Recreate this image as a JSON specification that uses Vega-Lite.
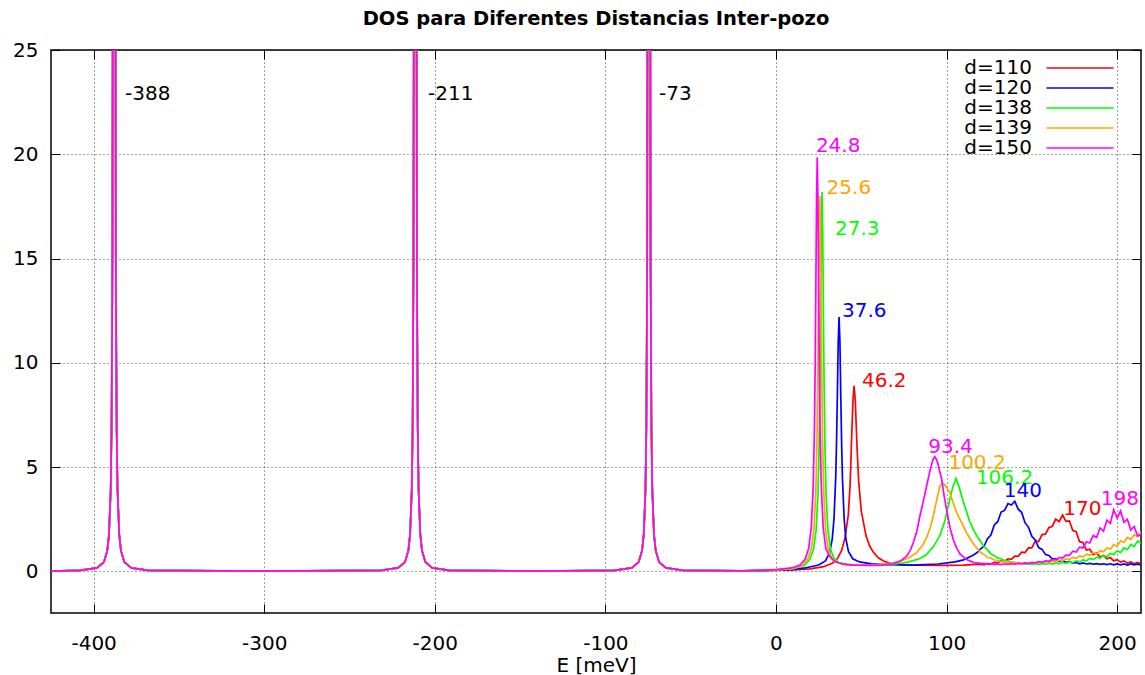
{
"$schema":"https://vega.github.io/schema/vega-lite/v6.json",
"width":1090,"height":563,
"autosize":{"type":"none"},
"padding":{"left":51,"top":50,"right":4,"bottom":62},
"background":"white",
"title":{"text":"DOS para Diferentes Distancias Inter-pozo","fontSize":19.5,"font":"DejaVu Sans","fontWeight":"bold","offset":11,"color":"#000"},
"resolve":{"axis":{"x":"independent","y":"independent"}},
"config":{
 "view":{"stroke":"#000","strokeWidth":1.5},
 "axis":{"labelFont":"DejaVu Sans","labelFontSize":20,"labelColor":"#000","titleFont":"DejaVu Sans","titleFontSize":20,"titleFontWeight":"normal","titleColor":"#000","gridColor":"#000","gridDash":[1,3],"gridOpacity":0.75,"gridWidth":1,"domain":false,"ticks":true,"tickSize":-9,"tickColor":"#000","tickWidth":1,"labelExpr":"'' + datum.value"},
 "legend":{"orient":"top-right","title":null,"symbolType":"M-3.87,0H3.87M5.72,0","symbolSize":300,"symbolStrokeWidth":1.6,"symbolFillColor":"transparent","labelFont":"DejaVu Sans","labelFontSize":20,"labelColor":"#000","labelAlign":"right","labelOffset":-58,"padding":0,"offset":8,"rowPadding":-5}
},
"datasets":{
"left":[
{"E":-425,"d=110":0.01,"d=120":0.01,"d=138":0.01,"d=139":0.01,"d=150":0.01},
{"E":-408,"d=110":0.04,"d=120":0.04,"d=138":0.04,"d=139":0.04,"d=150":0.04},
{"E":-398,"d=110":0.16,"d=120":0.16,"d=138":0.16,"d=139":0.16,"d=150":0.16},
{"E":-394,"d=110":0.44,"d=120":0.44,"d=138":0.44,"d=139":0.44,"d=150":0.44},
{"E":-392,"d=110":0.99,"d=120":0.99,"d=138":0.99,"d=139":0.99,"d=150":0.99},
{"E":-391,"d=110":1.76,"d=120":1.76,"d=138":1.76,"d=139":1.76,"d=150":1.76},
{"E":-390,"d=110":3.9,"d=120":3.9,"d=138":3.9,"d=139":3.9,"d=150":3.9},
{"E":-389.5,"d=110":6.8,"d=120":6.8,"d=138":6.8,"d=139":6.8,"d=150":6.8},
{"E":-389,"d=110":14.7,"d=120":14.7,"d=138":14.7,"d=139":14.7,"d=150":14.7},
{"E":-388.5,"d=110":47,"d=120":47,"d=138":47,"d=139":47,"d=150":47},
{"E":-388,"d=110":150,"d=120":150,"d=138":150,"d=139":150,"d=150":150},
{"E":-387.5,"d=110":47,"d=120":47,"d=138":47,"d=139":47,"d=150":47},
{"E":-387,"d=110":14.7,"d=120":14.7,"d=138":14.7,"d=139":14.7,"d=150":14.7},
{"E":-386.5,"d=110":6.8,"d=120":6.8,"d=138":6.8,"d=139":6.8,"d=150":6.8},
{"E":-386,"d=110":3.9,"d=120":3.9,"d=138":3.9,"d=139":3.9,"d=150":3.9},
{"E":-385,"d=110":1.76,"d=120":1.76,"d=138":1.76,"d=139":1.76,"d=150":1.76},
{"E":-384,"d=110":0.99,"d=120":0.99,"d=138":0.99,"d=139":0.99,"d=150":0.99},
{"E":-382,"d=110":0.44,"d=120":0.44,"d=138":0.44,"d=139":0.44,"d=150":0.44},
{"E":-378,"d=110":0.16,"d=120":0.16,"d=138":0.16,"d=139":0.16,"d=150":0.16},
{"E":-368,"d=110":0.04,"d=120":0.04,"d=138":0.04,"d=139":0.04,"d=150":0.04},
{"E":-300,"d=110":0.01,"d=120":0.01,"d=138":0.01,"d=139":0.01,"d=150":0.01},
{"E":-231.5,"d=110":0.04,"d=120":0.04,"d=138":0.04,"d=139":0.04,"d=150":0.04},
{"E":-221.5,"d=110":0.16,"d=120":0.16,"d=138":0.16,"d=139":0.16,"d=150":0.16},
{"E":-217.5,"d=110":0.44,"d=120":0.44,"d=138":0.44,"d=139":0.44,"d=150":0.44},
{"E":-215.5,"d=110":0.99,"d=120":0.99,"d=138":0.99,"d=139":0.99,"d=150":0.99},
{"E":-214.5,"d=110":1.76,"d=120":1.76,"d=138":1.76,"d=139":1.76,"d=150":1.76},
{"E":-213.5,"d=110":3.9,"d=120":3.9,"d=138":3.9,"d=139":3.9,"d=150":3.9},
{"E":-213,"d=110":6.8,"d=120":6.8,"d=138":6.8,"d=139":6.8,"d=150":6.8},
{"E":-212.5,"d=110":14.7,"d=120":14.7,"d=138":14.7,"d=139":14.7,"d=150":14.7},
{"E":-212,"d=110":47,"d=120":47,"d=138":47,"d=139":47,"d=150":47},
{"E":-211.5,"d=110":150,"d=120":150,"d=138":150,"d=139":150,"d=150":150},
{"E":-211,"d=110":47,"d=120":47,"d=138":47,"d=139":47,"d=150":47},
{"E":-210.5,"d=110":14.7,"d=120":14.7,"d=138":14.7,"d=139":14.7,"d=150":14.7},
{"E":-210,"d=110":6.8,"d=120":6.8,"d=138":6.8,"d=139":6.8,"d=150":6.8},
{"E":-209.5,"d=110":3.9,"d=120":3.9,"d=138":3.9,"d=139":3.9,"d=150":3.9},
{"E":-208.5,"d=110":1.76,"d=120":1.76,"d=138":1.76,"d=139":1.76,"d=150":1.76},
{"E":-207.5,"d=110":0.99,"d=120":0.99,"d=138":0.99,"d=139":0.99,"d=150":0.99},
{"E":-205.5,"d=110":0.44,"d=120":0.44,"d=138":0.44,"d=139":0.44,"d=150":0.44},
{"E":-201.5,"d=110":0.16,"d=120":0.16,"d=138":0.16,"d=139":0.16,"d=150":0.16},
{"E":-191.5,"d=110":0.04,"d=120":0.04,"d=138":0.04,"d=139":0.04,"d=150":0.04},
{"E":-140,"d=110":0.01,"d=120":0.01,"d=138":0.01,"d=139":0.01,"d=150":0.01},
{"E":-94.5,"d=110":0.04,"d=120":0.04,"d=138":0.04,"d=139":0.04,"d=150":0.04},
{"E":-84.5,"d=110":0.16,"d=120":0.16,"d=138":0.16,"d=139":0.16,"d=150":0.16},
{"E":-80.5,"d=110":0.44,"d=120":0.44,"d=138":0.44,"d=139":0.44,"d=150":0.44},
{"E":-78.5,"d=110":0.99,"d=120":0.99,"d=138":0.99,"d=139":0.99,"d=150":0.99},
{"E":-77.5,"d=110":1.76,"d=120":1.76,"d=138":1.76,"d=139":1.76,"d=150":1.76},
{"E":-76.5,"d=110":3.9,"d=120":3.9,"d=138":3.9,"d=139":3.9,"d=150":3.9},
{"E":-76,"d=110":6.8,"d=120":6.8,"d=138":6.8,"d=139":6.8,"d=150":6.8},
{"E":-75.5,"d=110":14.7,"d=120":14.7,"d=138":14.7,"d=139":14.7,"d=150":14.7},
{"E":-75,"d=110":47,"d=120":47,"d=138":47,"d=139":47,"d=150":47},
{"E":-74.5,"d=110":150,"d=120":150,"d=138":150,"d=139":150,"d=150":150},
{"E":-74,"d=110":47,"d=120":47,"d=138":47,"d=139":47,"d=150":47},
{"E":-73.5,"d=110":14.7,"d=120":14.7,"d=138":14.7,"d=139":14.7,"d=150":14.7},
{"E":-73,"d=110":6.8,"d=120":6.8,"d=138":6.8,"d=139":6.8,"d=150":6.8},
{"E":-72.5,"d=110":3.9,"d=120":3.9,"d=138":3.9,"d=139":3.9,"d=150":3.9},
{"E":-71.5,"d=110":1.76,"d=120":1.76,"d=138":1.76,"d=139":1.76,"d=150":1.76},
{"E":-70.5,"d=110":0.99,"d=120":0.99,"d=138":0.99,"d=139":0.99,"d=150":0.99},
{"E":-68.5,"d=110":0.44,"d=120":0.44,"d=138":0.44,"d=139":0.44,"d=150":0.44},
{"E":-64.5,"d=110":0.16,"d=120":0.16,"d=138":0.16,"d=139":0.16,"d=150":0.16},
{"E":-54.5,"d=110":0.04,"d=120":0.04,"d=138":0.04,"d=139":0.04,"d=150":0.04},
{"E":-20,"d=110":0.02,"d=120":0.02,"d=138":0.02,"d=139":0.02,"d=150":0.02}
],
"right":[
{"s":"d=110","E":-20,"v":0.02},{"s":"d=110","E":0,"v":0.04},{"s":"d=110","E":10,"v":0.07},{"s":"d=110","E":20,"v":0.12},{"s":"d=110","E":28,"v":0.22},{"s":"d=110","E":33,"v":0.38},{"s":"d=110","E":36,"v":0.6},{"s":"d=110","E":38.5,"v":1.0},{"s":"d=110","E":40.5,"v":1.6},{"s":"d=110","E":42.4,"v":2.7},{"s":"d=110","E":43.5,"v":4.2},{"s":"d=110","E":44.4,"v":6.5},{"s":"d=110","E":45.2,"v":8.3},{"s":"d=110","E":45.8,"v":8.9},{"s":"d=110","E":46.5,"v":8.2},{"s":"d=110","E":47.5,"v":6.0},{"s":"d=110","E":48.5,"v":4.3},{"s":"d=110","E":50,"v":2.9},{"s":"d=110","E":52.8,"v":1.7},{"s":"d=110","E":55,"v":1.2},{"s":"d=110","E":57,"v":0.92},{"s":"d=110","E":60,"v":0.65},{"s":"d=110","E":63,"v":0.49},{"s":"d=110","E":67,"v":0.38},{"s":"d=110","E":71,"v":0.33},{"s":"d=110","E":80,"v":0.29},{"s":"d=110","E":95,"v":0.28},{"s":"d=110","E":110,"v":0.3},
{"s":"d=110","E":120,"v":0.34},{"s":"d=110","E":122,"v":0.31},{"s":"d=110","E":124,"v":0.37},{"s":"d=110","E":126,"v":0.35},{"s":"d=110","E":128,"v":0.43},{"s":"d=110","E":130,"v":0.4},{"s":"d=110","E":132,"v":0.5},{"s":"d=110","E":134,"v":0.47},{"s":"d=110","E":136,"v":0.6},{"s":"d=110","E":138,"v":0.57},{"s":"d=110","E":140,"v":0.73},{"s":"d=110","E":142,"v":0.72},{"s":"d=110","E":144,"v":0.92},{"s":"d=110","E":146,"v":0.9},{"s":"d=110","E":148,"v":1.12},{"s":"d=110","E":150,"v":1.12},{"s":"d=110","E":152,"v":1.44},{"s":"d=110","E":154,"v":1.42},{"s":"d=110","E":156,"v":1.76},{"s":"d=110","E":158,"v":1.78},{"s":"d=110","E":160,"v":2.1},{"s":"d=110","E":162,"v":2.15},{"s":"d=110","E":164,"v":2.5},{"s":"d=110","E":166,"v":2.38},{"s":"d=110","E":168,"v":2.7},{"s":"d=110","E":170,"v":2.4},{"s":"d=110","E":172,"v":2.42},{"s":"d=110","E":174,"v":1.95},{"s":"d=110","E":176,"v":1.9},{"s":"d=110","E":178,"v":1.42},{"s":"d=110","E":180,"v":1.38},{"s":"d=110","E":182,"v":1.02},{"s":"d=110","E":184,"v":1.06},{"s":"d=110","E":186,"v":0.8},{"s":"d=110","E":188,"v":0.88},{"s":"d=110","E":190,"v":0.68},{"s":"d=110","E":192,"v":0.76},{"s":"d=110","E":194,"v":0.6},{"s":"d=110","E":196,"v":0.66},{"s":"d=110","E":198,"v":0.5},{"s":"d=110","E":200,"v":0.56},{"s":"d=110","E":202,"v":0.44},{"s":"d=110","E":204,"v":0.5},{"s":"d=110","E":206,"v":0.39},{"s":"d=110","E":208,"v":0.45},{"s":"d=110","E":210,"v":0.36},{"s":"d=110","E":212,"v":0.42},{"s":"d=110","E":214,"v":0.35},
{"s":"d=120","E":-20,"v":0.02},{"s":"d=120","E":0,"v":0.05},{"s":"d=120","E":10,"v":0.08},{"s":"d=120","E":17,"v":0.16},{"s":"d=120","E":25,"v":0.3},{"s":"d=120","E":29,"v":0.5},{"s":"d=120","E":31.5,"v":0.9},{"s":"d=120","E":33,"v":1.55},{"s":"d=120","E":34,"v":2.5},{"s":"d=120","E":35,"v":4.4},{"s":"d=120","E":35.5,"v":6.1},{"s":"d=120","E":36,"v":8.45},{"s":"d=120","E":36.5,"v":11.0},{"s":"d=120","E":37,"v":12.2},{"s":"d=120","E":37.5,"v":11.0},{"s":"d=120","E":38,"v":8.45},{"s":"d=120","E":38.5,"v":6.1},{"s":"d=120","E":39,"v":4.4},{"s":"d=120","E":40,"v":2.5},{"s":"d=120","E":41,"v":1.55},{"s":"d=120","E":42.5,"v":0.95},{"s":"d=120","E":45,"v":0.6},{"s":"d=120","E":49,"v":0.45},{"s":"d=120","E":56,"v":0.36},{"s":"d=120","E":65,"v":0.32},{"s":"d=120","E":80,"v":0.3},{"s":"d=120","E":95,"v":0.35},{"s":"d=120","E":105,"v":0.45},{"s":"d=120","E":110,"v":0.55},{"s":"d=120","E":115,"v":0.75},{"s":"d=120","E":118,"v":0.9},
{"s":"d=120","E":120,"v":1.08},{"s":"d=120","E":122,"v":1.2},{"s":"d=120","E":124,"v":1.56},{"s":"d=120","E":126,"v":1.74},{"s":"d=120","E":128,"v":2.22},{"s":"d=120","E":130,"v":2.38},{"s":"d=120","E":132,"v":2.84},{"s":"d=120","E":134,"v":2.92},{"s":"d=120","E":136,"v":3.25},{"s":"d=120","E":138,"v":3.18},{"s":"d=120","E":140,"v":3.36},{"s":"d=120","E":142,"v":2.98},{"s":"d=120","E":144,"v":2.83},{"s":"d=120","E":146,"v":2.33},{"s":"d=120","E":148,"v":2.12},{"s":"d=120","E":150,"v":1.68},{"s":"d=120","E":152,"v":1.5},{"s":"d=120","E":154,"v":1.14},{"s":"d=120","E":156,"v":1.05},{"s":"d=120","E":158,"v":0.8},{"s":"d=120","E":160,"v":0.76},{"s":"d=120","E":162,"v":0.6},{"s":"d=120","E":164,"v":0.6},{"s":"d=120","E":166,"v":0.49},{"s":"d=120","E":168,"v":0.52},{"s":"d=120","E":170,"v":0.43},{"s":"d=120","E":172,"v":0.47},{"s":"d=120","E":174,"v":0.39},{"s":"d=120","E":176,"v":0.42},{"s":"d=120","E":178,"v":0.36},{"s":"d=120","E":180,"v":0.4},{"s":"d=120","E":182,"v":0.35},{"s":"d=120","E":184,"v":0.38},{"s":"d=120","E":186,"v":0.34},{"s":"d=120","E":188,"v":0.37},{"s":"d=120","E":190,"v":0.33},{"s":"d=120","E":192,"v":0.36},{"s":"d=120","E":194,"v":0.32},{"s":"d=120","E":196,"v":0.36},{"s":"d=120","E":198,"v":0.31},{"s":"d=120","E":200,"v":0.35},{"s":"d=120","E":202,"v":0.31},{"s":"d=120","E":204,"v":0.35},{"s":"d=120","E":206,"v":0.3},{"s":"d=120","E":208,"v":0.35},{"s":"d=120","E":210,"v":0.31},{"s":"d=120","E":212,"v":0.34},{"s":"d=120","E":214,"v":0.31},
{"s":"d=138","E":-20,"v":0.02},{"s":"d=138","E":0,"v":0.06},{"s":"d=138","E":10,"v":0.12},{"s":"d=138","E":17,"v":0.3},{"s":"d=138","E":20,"v":0.6},{"s":"d=138","E":22,"v":1.05},{"s":"d=138","E":23.5,"v":1.95},{"s":"d=138","E":24.6,"v":3.65},{"s":"d=138","E":25.3,"v":6.05},{"s":"d=138","E":25.8,"v":9.1},{"s":"d=138","E":26.2,"v":12.6},{"s":"d=138","E":26.6,"v":16.4},{"s":"d=138","E":27,"v":18.2},{"s":"d=138","E":27.4,"v":16.4},{"s":"d=138","E":27.8,"v":12.6},{"s":"d=138","E":28.2,"v":9.1},{"s":"d=138","E":28.7,"v":6.05},{"s":"d=138","E":29.4,"v":3.65},{"s":"d=138","E":30.5,"v":1.95},{"s":"d=138","E":32,"v":1.05},{"s":"d=138","E":34,"v":0.62},{"s":"d=138","E":37,"v":0.42},{"s":"d=138","E":42,"v":0.33},{"s":"d=138","E":50,"v":0.3},{"s":"d=138","E":60,"v":0.3},{"s":"d=138","E":70,"v":0.35},{"s":"d=138","E":78,"v":0.45},{"s":"d=138","E":84,"v":0.6},{"s":"d=138","E":88,"v":0.78},{"s":"d=138","E":92,"v":1.15},{"s":"d=138","E":96,"v":1.7},{"s":"d=138","E":99,"v":2.4},{"s":"d=138","E":101.5,"v":3.3},{"s":"d=138","E":103.5,"v":4.0},{"s":"d=138","E":105.5,"v":4.45},{"s":"d=138","E":107.5,"v":4.0},{"s":"d=138","E":110,"v":3.3},{"s":"d=138","E":113.5,"v":2.4},{"s":"d=138","E":117,"v":1.8},
{"s":"d=138","E":120,"v":1.43},{"s":"d=138","E":122,"v":1.18},{"s":"d=138","E":124,"v":1.03},{"s":"d=138","E":126,"v":0.83},{"s":"d=138","E":128,"v":0.75},{"s":"d=138","E":130,"v":0.63},{"s":"d=138","E":132,"v":0.6},{"s":"d=138","E":134,"v":0.51},{"s":"d=138","E":136,"v":0.5},{"s":"d=138","E":138,"v":0.43},{"s":"d=138","E":140,"v":0.43},{"s":"d=138","E":142,"v":0.38},{"s":"d=138","E":144,"v":0.38},{"s":"d=138","E":146,"v":0.34},{"s":"d=138","E":148,"v":0.37},{"s":"d=138","E":150,"v":0.33},{"s":"d=138","E":152,"v":0.37},{"s":"d=138","E":154,"v":0.33},{"s":"d=138","E":156,"v":0.37},{"s":"d=138","E":158,"v":0.34},{"s":"d=138","E":160,"v":0.39},{"s":"d=138","E":162,"v":0.35},{"s":"d=138","E":164,"v":0.41},{"s":"d=138","E":166,"v":0.36},{"s":"d=138","E":168,"v":0.43},{"s":"d=138","E":170,"v":0.38},{"s":"d=138","E":172,"v":0.46},{"s":"d=138","E":174,"v":0.41},{"s":"d=138","E":176,"v":0.5},{"s":"d=138","E":178,"v":0.45},{"s":"d=138","E":180,"v":0.55},{"s":"d=138","E":182,"v":0.5},{"s":"d=138","E":184,"v":0.62},{"s":"d=138","E":186,"v":0.56},{"s":"d=138","E":188,"v":0.68},{"s":"d=138","E":190,"v":0.62},{"s":"d=138","E":192,"v":0.76},{"s":"d=138","E":194,"v":0.7},{"s":"d=138","E":196,"v":0.86},{"s":"d=138","E":198,"v":0.8},{"s":"d=138","E":200,"v":0.98},{"s":"d=138","E":202,"v":0.9},{"s":"d=138","E":204,"v":1.12},{"s":"d=138","E":206,"v":1.04},{"s":"d=138","E":208,"v":1.28},{"s":"d=138","E":210,"v":1.18},{"s":"d=138","E":212,"v":1.45},{"s":"d=138","E":214,"v":1.34},
{"s":"d=139","E":-20,"v":0.02},{"s":"d=139","E":0,"v":0.07},{"s":"d=139","E":10,"v":0.13},{"s":"d=139","E":15.7,"v":0.3},{"s":"d=139","E":18.7,"v":0.6},{"s":"d=139","E":20.7,"v":1.05},{"s":"d=139","E":22.2,"v":1.95},{"s":"d=139","E":23.3,"v":3.65},{"s":"d=139","E":24,"v":6.0},{"s":"d=139","E":24.5,"v":9.0},{"s":"d=139","E":24.9,"v":12.5},{"s":"d=139","E":25.3,"v":16.2},{"s":"d=139","E":25.7,"v":18.0},{"s":"d=139","E":26.1,"v":16.2},{"s":"d=139","E":26.5,"v":12.5},{"s":"d=139","E":26.9,"v":9.0},{"s":"d=139","E":27.4,"v":6.0},{"s":"d=139","E":28.1,"v":3.65},{"s":"d=139","E":29.2,"v":1.95},{"s":"d=139","E":30.7,"v":1.05},{"s":"d=139","E":32.7,"v":0.62},{"s":"d=139","E":35.7,"v":0.42},{"s":"d=139","E":41,"v":0.32},{"s":"d=139","E":50,"v":0.3},{"s":"d=139","E":57,"v":0.3},{"s":"d=139","E":65,"v":0.36},{"s":"d=139","E":72,"v":0.45},{"s":"d=139","E":78,"v":0.65},{"s":"d=139","E":82.5,"v":0.89},{"s":"d=139","E":86,"v":1.25},{"s":"d=139","E":88.3,"v":1.61},{"s":"d=139","E":90.5,"v":2.1},{"s":"d=139","E":92.2,"v":2.65},{"s":"d=139","E":94.2,"v":3.4},{"s":"d=139","E":96.1,"v":4.08},{"s":"d=139","E":97.7,"v":4.24},{"s":"d=139","E":99.5,"v":4.1},{"s":"d=139","E":102,"v":3.76},{"s":"d=139","E":104,"v":3.25},{"s":"d=139","E":106,"v":2.8},{"s":"d=139","E":109,"v":2.3},{"s":"d=139","E":111.7,"v":1.85},{"s":"d=139","E":115,"v":1.4},{"s":"d=139","E":117.6,"v":1.13},{"s":"d=139","E":120,"v":0.9},
{"s":"d=139","E":122,"v":0.8},{"s":"d=139","E":124,"v":0.67},{"s":"d=139","E":126,"v":0.64},{"s":"d=139","E":128,"v":0.54},{"s":"d=139","E":130,"v":0.53},{"s":"d=139","E":132,"v":0.46},{"s":"d=139","E":134,"v":0.47},{"s":"d=139","E":136,"v":0.41},{"s":"d=139","E":138,"v":0.44},{"s":"d=139","E":140,"v":0.39},{"s":"d=139","E":142,"v":0.42},{"s":"d=139","E":144,"v":0.38},{"s":"d=139","E":146,"v":0.42},{"s":"d=139","E":148,"v":0.38},{"s":"d=139","E":150,"v":0.43},{"s":"d=139","E":152,"v":0.39},{"s":"d=139","E":154,"v":0.44},{"s":"d=139","E":156,"v":0.4},{"s":"d=139","E":158,"v":0.47},{"s":"d=139","E":160,"v":0.43},{"s":"d=139","E":162,"v":0.5},{"s":"d=139","E":164,"v":0.46},{"s":"d=139","E":166,"v":0.55},{"s":"d=139","E":168,"v":0.5},{"s":"d=139","E":170,"v":0.6},{"s":"d=139","E":172,"v":0.56},{"s":"d=139","E":174,"v":0.67},{"s":"d=139","E":176,"v":0.62},{"s":"d=139","E":178,"v":0.74},{"s":"d=139","E":180,"v":0.69},{"s":"d=139","E":182,"v":0.82},{"s":"d=139","E":184,"v":0.76},{"s":"d=139","E":186,"v":0.9},{"s":"d=139","E":188,"v":0.84},{"s":"d=139","E":190,"v":0.99},{"s":"d=139","E":192,"v":0.94},{"s":"d=139","E":194,"v":1.12},{"s":"d=139","E":196,"v":1.06},{"s":"d=139","E":198,"v":1.28},{"s":"d=139","E":200,"v":1.2},{"s":"d=139","E":202,"v":1.46},{"s":"d=139","E":204,"v":1.38},{"s":"d=139","E":206,"v":1.62},{"s":"d=139","E":208,"v":1.52},{"s":"d=139","E":210,"v":1.75},{"s":"d=139","E":212,"v":1.66},{"s":"d=139","E":214,"v":1.9},
{"s":"d=150","E":-20,"v":0.02},{"s":"d=150","E":0,"v":0.08},{"s":"d=150","E":9.2,"v":0.16},{"s":"d=150","E":14.2,"v":0.3},{"s":"d=150","E":17.2,"v":0.6},{"s":"d=150","E":19.2,"v":1.1},{"s":"d=150","E":20.7,"v":2.1},{"s":"d=150","E":21.8,"v":4.0},{"s":"d=150","E":22.5,"v":6.6},{"s":"d=150","E":23,"v":9.9},{"s":"d=150","E":23.4,"v":13.75},{"s":"d=150","E":23.8,"v":17.9},{"s":"d=150","E":24.2,"v":19.85},{"s":"d=150","E":24.6,"v":17.9},{"s":"d=150","E":25,"v":13.75},{"s":"d=150","E":25.4,"v":9.9},{"s":"d=150","E":25.9,"v":6.6},{"s":"d=150","E":26.6,"v":4.0},{"s":"d=150","E":27.7,"v":2.1},{"s":"d=150","E":29.2,"v":1.1},{"s":"d=150","E":31.2,"v":0.75},{"s":"d=150","E":34.2,"v":0.48},{"s":"d=150","E":39.2,"v":0.34},{"s":"d=150","E":45,"v":0.3},{"s":"d=150","E":55,"v":0.28},{"s":"d=150","E":62,"v":0.3},{"s":"d=150","E":68.8,"v":0.36},{"s":"d=150","E":73,"v":0.5},{"s":"d=150","E":76.6,"v":0.73},{"s":"d=150","E":79,"v":1.05},{"s":"d=150","E":80.5,"v":1.37},{"s":"d=150","E":82.5,"v":1.9},{"s":"d=150","E":84.4,"v":2.65},{"s":"d=150","E":86.5,"v":3.4},{"s":"d=150","E":88.3,"v":4.08},{"s":"d=150","E":90.5,"v":4.9},{"s":"d=150","E":92,"v":5.35},{"s":"d=150","E":93.1,"v":5.5},{"s":"d=150","E":94.5,"v":5.3},{"s":"d=150","E":96,"v":4.8},{"s":"d=150","E":97.2,"v":4.4},{"s":"d=150","E":98.6,"v":3.6},{"s":"d=150","E":100,"v":2.97},{"s":"d=150","E":102,"v":2.1},{"s":"d=150","E":104,"v":1.5},{"s":"d=150","E":106,"v":1.1},{"s":"d=150","E":108,"v":0.82},{"s":"d=150","E":112,"v":0.55},{"s":"d=150","E":116,"v":0.42},{"s":"d=150","E":120,"v":0.38},
{"s":"d=150","E":122,"v":0.37},{"s":"d=150","E":124,"v":0.33},{"s":"d=150","E":126,"v":0.36},{"s":"d=150","E":128,"v":0.32},{"s":"d=150","E":130,"v":0.35},{"s":"d=150","E":132,"v":0.32},{"s":"d=150","E":134,"v":0.36},{"s":"d=150","E":136,"v":0.33},{"s":"d=150","E":138,"v":0.37},{"s":"d=150","E":140,"v":0.34},{"s":"d=150","E":142,"v":0.38},{"s":"d=150","E":144,"v":0.35},{"s":"d=150","E":146,"v":0.4},{"s":"d=150","E":148,"v":0.37},{"s":"d=150","E":150,"v":0.42},{"s":"d=150","E":152,"v":0.4},{"s":"d=150","E":154,"v":0.46},{"s":"d=150","E":156,"v":0.43},{"s":"d=150","E":158,"v":0.5},{"s":"d=150","E":160,"v":0.48},{"s":"d=150","E":162,"v":0.57},{"s":"d=150","E":164,"v":0.55},{"s":"d=150","E":166,"v":0.66},{"s":"d=150","E":168,"v":0.63},{"s":"d=150","E":170,"v":0.78},{"s":"d=150","E":172,"v":0.76},{"s":"d=150","E":174,"v":0.96},{"s":"d=150","E":176,"v":0.92},{"s":"d=150","E":178,"v":1.16},{"s":"d=150","E":180,"v":1.12},{"s":"d=150","E":182,"v":1.42},{"s":"d=150","E":184,"v":1.36},{"s":"d=150","E":186,"v":1.72},{"s":"d=150","E":188,"v":1.62},{"s":"d=150","E":190,"v":2.08},{"s":"d=150","E":192,"v":1.92},{"s":"d=150","E":194,"v":2.45},{"s":"d=150","E":196,"v":2.3},{"s":"d=150","E":198,"v":2.95},{"s":"d=150","E":200,"v":2.55},{"s":"d=150","E":202,"v":2.9},{"s":"d=150","E":204,"v":2.35},{"s":"d=150","E":206,"v":2.5},{"s":"d=150","E":208,"v":1.98},{"s":"d=150","E":210,"v":2.15},{"s":"d=150","E":212,"v":1.7},{"s":"d=150","E":214,"v":1.75}
],
"labels":[
{"t":"24.8","E":23.4,"v":20.4,"s":"d=150"},
{"t":"25.6","E":29.7,"v":18.4,"s":"d=139"},
{"t":"27.3","E":34.6,"v":16.4,"s":"d=138"},
{"t":"37.6","E":38.7,"v":12.5,"s":"d=120"},
{"t":"46.2","E":50.4,"v":9.15,"s":"d=110"},
{"t":"93.4","E":89.3,"v":5.95,"s":"d=150"},
{"t":"100.2","E":101.1,"v":5.2,"s":"d=139"},
{"t":"106.2","E":117.2,"v":4.48,"s":"d=138"},
{"t":"140","E":133.6,"v":3.84,"s":"d=120"},
{"t":"170","E":168.4,"v":3.0,"s":"d=110"},
{"t":"198","E":190.4,"v":3.48,"s":"d=150"}
],
"black":[
{"t":"-388","E":-381.6,"v":22.9},
{"t":"-211","E":-204,"v":22.9},
{"t":"-73","E":-68.6,"v":22.9}
]
},
"layer":[
{"data":{"name":"left"},
 "transform":[{"fold":["d=110","d=120","d=138","d=139","d=150"],"as":["s","v"]}],
 "mark":{"type":"line","clip":true,"strokeWidth":1.7},
 "encoding":{
  "x":{"field":"E","type":"quantitative","scale":{"domain":[-425,214],"nice":false,"zero":false},"axis":{"orient":"bottom","grid":true,"title":"E [meV]","values":[-400,-300,-200,-100,0,100,200],"labelBaseline":"top","labelPadding":29,"titlePadding":2}},
  "y":{"field":"v","type":"quantitative","scale":{"domain":[-2,25],"nice":false,"zero":false},"axis":{"orient":"left","grid":true,"title":null,"values":[0,5,10,15,20,25],"labelAlign":"right","labelPadding":22}},
  "color":{"field":"s","type":"nominal","scale":{"domain":["d=110","d=120","d=138","d=139","d=150"],"range":["#ff0000","#0000ff","#00ff00","#ffa500","#ff00ff"]},"legend":{}},
  "order":{"field":"E","type":"quantitative"}
 }},
{"data":{"name":"right"},
 "mark":{"type":"line","clip":true,"strokeWidth":1.7},
 "encoding":{
  "x":{"field":"E","type":"quantitative","axis":{"orient":"top","grid":false,"labels":false,"title":null,"values":[-400,-300,-200,-100,0,100,200]}},
  "y":{"field":"v","type":"quantitative","axis":{"orient":"right","grid":false,"labels":false,"title":null,"values":[0,5,10,15,20,25]}},
  "color":{"field":"s","type":"nominal"},
  "order":{"field":"E","type":"quantitative"}
 }},
{"data":{"name":"labels"},
 "mark":{"type":"text","align":"left","baseline":"middle","font":"DejaVu Sans","fontSize":20},
 "encoding":{
  "x":{"field":"E","type":"quantitative","axis":null},
  "y":{"field":"v","type":"quantitative","axis":null},
  "text":{"field":"t"},
  "color":{"field":"s","type":"nominal"}
 }},
{"data":{"name":"black"},
 "mark":{"type":"text","align":"left","baseline":"middle","font":"DejaVu Sans","fontSize":20,"color":"#000"},
 "encoding":{
  "x":{"field":"E","type":"quantitative","axis":null},
  "y":{"field":"v","type":"quantitative","axis":null},
  "text":{"field":"t"}
 }}
]
}
